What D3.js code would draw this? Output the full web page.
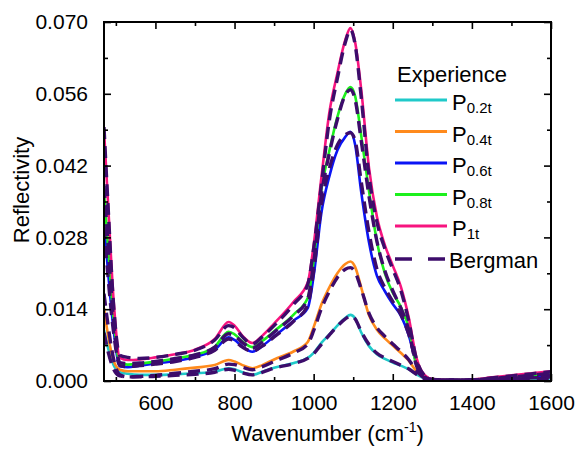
<!DOCTYPE html>
<html><head><meta charset="utf-8">
<script src="https://cdn.jsdelivr.net/npm/d3@7"></script>
<style>html,body{margin:0;padding:0;background:#fff;}svg{display:block;font-family:"Liberation Sans",Arial,sans-serif;}</style>
</head><body>
<svg id="chart" width="576" height="449"></svg>
<script>
const wavenumbers = [470,480,495,510,530,560,600,650,700,750,785,800,820,845,870,900,950,985,1000,1020,1040,1060,1080,1093,1105,1120,1140,1160,1180,1200,1220,1240,1260,1280,1300,1350,1400,1450,1500,1550,1600];

const p02t = [0.0099,0.0065,0.0030,0.0017,0.0014,0.0012,0.0012,0.0013,0.0015,0.0018,0.0025,0.0023,0.0017,0.0012,0.0018,0.0026,0.0035,0.0045,0.0055,0.0075,0.0091,0.0108,0.0123,0.0129,0.0122,0.0095,0.0068,0.0052,0.0043,0.0036,0.0030,0.0023,0.0013,0.0005,0.0001,0.0001,0.0001,0.0002,0.0003,0.0004,0.0005];
const p04t = [0.0142,0.0090,0.0038,0.0022,0.0019,0.0019,0.0019,0.0022,0.0026,0.0031,0.0041,0.0038,0.0031,0.0025,0.0031,0.0042,0.0058,0.0076,0.0105,0.0150,0.0183,0.0210,0.0228,0.0233,0.0222,0.0183,0.0128,0.0100,0.0083,0.0069,0.0055,0.0040,0.0019,0.0006,0.0002,0.0001,0.0001,0.0003,0.0005,0.0006,0.0008];
const p06t = [0.0310,0.0215,0.0095,0.0029,0.0027,0.0030,0.0034,0.0039,0.0047,0.0061,0.0085,0.0080,0.0067,0.0057,0.0068,0.0087,0.0118,0.0142,0.0205,0.0330,0.0400,0.0450,0.0476,0.0486,0.0460,0.0370,0.0270,0.0205,0.0175,0.0150,0.0128,0.0090,0.0035,0.0010,0.0003,0.0001,0.0002,0.0004,0.0007,0.0009,0.0012];
const p08t = [0.0370,0.0265,0.0115,0.0035,0.0032,0.0034,0.0038,0.0044,0.0051,0.0067,0.0096,0.0091,0.0077,0.0066,0.0078,0.0097,0.0130,0.0162,0.0235,0.0375,0.0450,0.0515,0.0560,0.0573,0.0555,0.0480,0.0370,0.0272,0.0210,0.0172,0.0145,0.0105,0.0030,0.0008,0.0003,0.0002,0.0002,0.0005,0.0008,0.0011,0.0015];
const p1t  = [0.0490,0.0350,0.0150,0.0045,0.0041,0.0042,0.0046,0.0052,0.0061,0.0082,0.0115,0.0108,0.0088,0.0074,0.0088,0.0112,0.0155,0.0192,0.0265,0.0400,0.0525,0.0600,0.0665,0.0688,0.0660,0.0570,0.0415,0.0320,0.0265,0.0225,0.0185,0.0125,0.0045,0.0012,0.0004,0.0002,0.0003,0.0007,0.0011,0.0015,0.0019];

const berg02t = [0.0094,0.0058,0.0022,0.0010,0.0008,0.0008,0.0009,0.0011,0.0013,0.0017,0.0023,0.0021,0.0016,0.0012,0.0017,0.0025,0.0034,0.0044,0.0053,0.0072,0.0090,0.0107,0.0121,0.0127,0.0121,0.0097,0.0071,0.0054,0.0045,0.0038,0.0031,0.0024,0.0013,0.0004,0.0001,0.0001,0.0001,0.0002,0.0003,0.0004,0.0005];
const berg04t = [0.0170,0.0110,0.0040,0.0012,0.0008,0.0009,0.0011,0.0015,0.0019,0.0024,0.0033,0.0032,0.0027,0.0022,0.0028,0.0038,0.0055,0.0072,0.0098,0.0142,0.0175,0.0202,0.0218,0.0221,0.0212,0.0180,0.0132,0.0104,0.0087,0.0072,0.0058,0.0042,0.0020,0.0006,0.0002,0.0001,0.0001,0.0003,0.0005,0.0006,0.0008];
const berg06t = [0.0300,0.0205,0.0090,0.0030,0.0028,0.0030,0.0033,0.0038,0.0046,0.0060,0.0082,0.0078,0.0066,0.0058,0.0068,0.0086,0.0117,0.0148,0.0215,0.0345,0.0415,0.0460,0.0480,0.0484,0.0468,0.0390,0.0290,0.0218,0.0182,0.0155,0.0130,0.0092,0.0036,0.0010,0.0003,0.0001,0.0002,0.0004,0.0007,0.0009,0.0012];
const berg08t = [0.0380,0.0270,0.0110,0.0036,0.0034,0.0035,0.0038,0.0044,0.0051,0.0066,0.0092,0.0088,0.0075,0.0064,0.0076,0.0095,0.0128,0.0160,0.0230,0.0365,0.0445,0.0510,0.0558,0.0568,0.0548,0.0470,0.0360,0.0272,0.0215,0.0176,0.0143,0.0100,0.0030,0.0008,0.0002,0.0002,0.0002,0.0005,0.0008,0.0011,0.0015];
const berg1t  = [0.0495,0.0345,0.0140,0.0050,0.0046,0.0044,0.0046,0.0052,0.0060,0.0080,0.0108,0.0104,0.0086,0.0072,0.0086,0.0108,0.0150,0.0188,0.0258,0.0385,0.0510,0.0590,0.0660,0.0685,0.0655,0.0555,0.0400,0.0310,0.0258,0.0218,0.0178,0.0118,0.0042,0.0011,0.0003,0.0002,0.0002,0.0006,0.0010,0.0014,0.0018];

const seriesSubs = ["0.2t","0.4t","0.6t","0.8t","1t"];
const seriesColors = ["#1fc9c9","#ff8a1c","#0a14f5","#1cf01c","#f7147f"];
const bergmanColor = "#3d0c6b";
const xTicks = [600,800,1000,1200,1400,1600];
const xMinorTicks = [500,700,900,1100,1300,1500];
const yTicks = [0,0.014,0.028,0.042,0.056,0.070];
const yMinorTicks = [0.007,0.021,0.035,0.049,0.063];

const expSeries = [p02t,p04t,p06t,p08t,p1t];
const bergSeries = [berg02t,berg04t,berg06t,berg08t,berg1t];

const svg = d3.select("#chart");
const L = 104, T = 22, R = 551, B = 381;
const x = d3.scaleLinear().domain([470,1600]).range([L,R]);
const y = d3.scaleLinear().domain([0,0.070]).range([B,T]);

const clip = svg.append("clipPath").attr("id","clip").append("rect")
  .attr("x",L).attr("y",T-2).attr("width",R-L).attr("height",B-T+2);

const line = d3.line().x((d,i)=>x(wavenumbers[i])).y(d=>y(d)).curve(d3.curveMonotoneX);
const plot = svg.append("g").attr("clip-path","url(#clip)");

expSeries.forEach((s,i)=>{
  plot.append("path").datum(s).attr("d",line).attr("fill","none")
    .attr("stroke",seriesColors[i]).attr("stroke-width",2.6).attr("stroke-linejoin","round");
});
bergSeries.forEach(s=>{
  plot.append("path").datum(s).attr("d",line).attr("fill","none")
    .attr("stroke",bergmanColor).attr("stroke-width",3.4).attr("stroke-dasharray","12,7");
});

// axes
const fmt = d3.format(".3f");
const axB = svg.append("g").attr("transform",`translate(0,${B})`)
  .call(d3.axisBottom(x).tickValues(xTicks).tickSize(-7).tickPadding(14).tickFormat(d3.format("d")));
const axBm = svg.append("g").attr("transform",`translate(0,${B})`)
  .call(d3.axisBottom(x).tickValues(xMinorTicks).tickSize(-4).tickFormat(""));
const axT = svg.append("g").attr("transform",`translate(0,${T})`)
  .call(d3.axisTop(x).tickValues(xTicks).tickSize(-7).tickFormat(""));
const axTm = svg.append("g").attr("transform",`translate(0,${T})`)
  .call(d3.axisTop(x).tickValues(xMinorTicks).tickSize(-4).tickFormat(""));
const axL = svg.append("g").attr("transform",`translate(${L},0)`)
  .call(d3.axisLeft(y).tickValues(yTicks).tickSize(-7).tickPadding(16).tickFormat(fmt));
const axLm = svg.append("g").attr("transform",`translate(${L},0)`)
  .call(d3.axisLeft(y).tickValues(yMinorTicks).tickSize(-4).tickFormat(""));
const axR = svg.append("g").attr("transform",`translate(${R},0)`)
  .call(d3.axisRight(y).tickValues(yTicks).tickSize(-7).tickFormat(""));
const axRm = svg.append("g").attr("transform",`translate(${R},0)`)
  .call(d3.axisRight(y).tickValues(yMinorTicks).tickSize(-4).tickFormat(""));
[axB,axBm,axT,axTm,axL,axLm,axR,axRm].forEach(g=>{
  g.select(".domain").remove();
  g.selectAll(".tick line").attr("stroke","#000").attr("stroke-width",1.6);
  g.selectAll(".tick text").attr("fill","#000").style("font-size","21px")
   .style("font-family","'Liberation Sans',Arial,sans-serif");
});
svg.append("rect").attr("x",L).attr("y",T).attr("width",R-L).attr("height",B-T)
  .attr("fill","none").attr("stroke","#000").attr("stroke-width",2);

// axis titles
const xt = svg.append("text").attr("x",(L+R)/2).attr("y",441).attr("text-anchor","middle")
  .style("font-size","22px").attr("fill","#000");
xt.append("tspan").text("Wavenumber (cm");
xt.append("tspan").attr("dy",-9).style("font-size","14px").text("-1");
xt.append("tspan").attr("dy",9).text(")");

svg.append("text").attr("transform","translate(29,190) rotate(-90)").attr("text-anchor","middle")
  .style("font-size","22px").attr("fill","#000").text("Reflectivity");

// legend
const lg = svg.append("g");
lg.append("text").attr("x",397).attr("y",82).style("font-size","22px").attr("fill","#000").text("Experience");
const rowY = [100,131.5,163,194.5,226];
seriesSubs.forEach((sub,i)=>{
  lg.append("line").attr("x1",395).attr("x2",447).attr("y1",rowY[i]).attr("y2",rowY[i])
    .attr("stroke",seriesColors[i]).attr("stroke-width",3);
  const t = lg.append("text").attr("x",452).attr("y",rowY[i]+10).style("font-size","22px").attr("fill","#000");
  t.append("tspan").text("P");
  t.append("tspan").attr("dy",3).style("font-size","15px").text(sub);
});
lg.append("line").attr("x1",395).attr("x2",447).attr("y1",259).attr("y2",259)
  .attr("stroke",bergmanColor).attr("stroke-width",3.4).attr("stroke-dasharray","17,16");
lg.append("text").attr("x",449).attr("y",268).style("font-size","22px").attr("fill","#000").text("Bergman");
</script>
</body></html>
